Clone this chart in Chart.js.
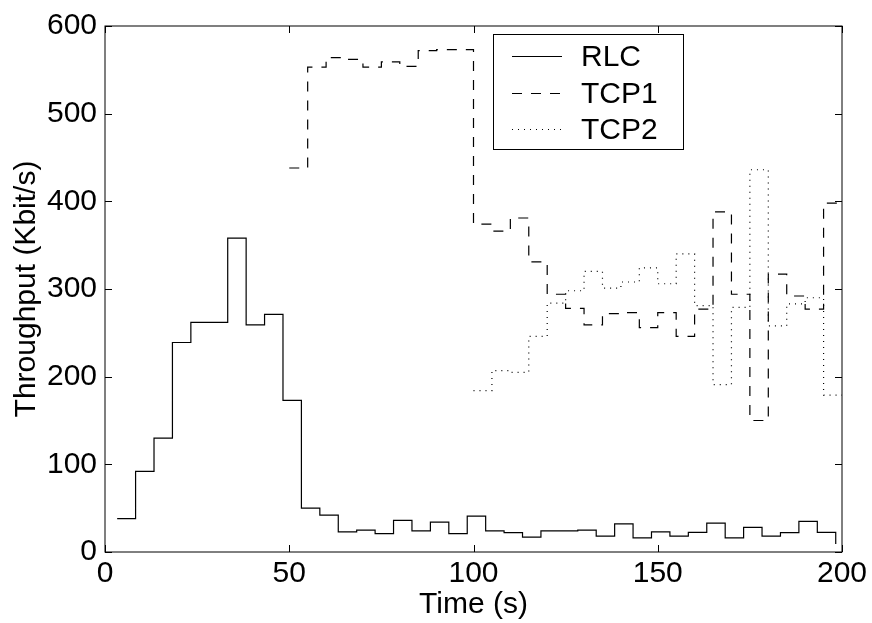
<!DOCTYPE html>
<html>
<head>
<meta charset="utf-8">
<script src="https://cdn.jsdelivr.net/npm/chart.js@4.4.1/dist/chart.umd.min.js"></script>
<style>
  body { margin: 0; background: #fff; }
  canvas { display: block; }
</style>
</head>
<body>
<canvas id="throughputChart" width="872" height="623"></canvas>
<script>
// bin start times (s) and throughput (Kbit/s)
const rlcTime = [3.3, 8.3, 13.3, 18.3, 23.3, 28.3, 33.3, 38.3, 43.3, 48.3,
  53.3, 58.3, 63.3, 68.3, 73.3, 78.3, 83.3, 88.3, 93.3, 98.3,
  103.3, 108.3, 113.3, 118.3, 123.3, 128.3, 133.3, 138.3, 143.3, 148.3,
  153.3, 158.3, 163.3, 168.3, 173.3, 178.3, 183.3, 188.3, 193.3, 198.3];
const rlcRate = [38, 92, 130, 239, 262, 262, 358, 259, 271, 173,
  50, 42, 23, 25, 21, 36, 24, 34, 21, 41,
  24, 22, 17, 24, 24, 25, 18, 32, 16, 23,
  18, 22.5, 33, 16, 28, 18, 22, 35, 22.5, 9];

const tcp1Time = [50, 55, 60, 65, 70, 75, 80, 85, 90, 95,
  100, 105, 110, 115, 120, 125, 130, 135, 140, 145,
  150, 155, 160, 165, 170, 175, 180, 185, 190, 195, 200];
const tcp1Rate = [438, 553, 564, 562, 553, 559, 554, 572, 573, 573,
  374, 366, 381, 331, 294, 278, 259, 272, 273, 256,
  273, 246, 277, 388, 294, 150, 317, 292, 277, 398, 398];

const tcp2Time = [100, 105, 110, 115, 120, 125, 130, 135, 140, 145,
  150, 155, 160, 165, 170, 175, 180, 185, 190, 195, 200];
const tcp2Rate = [184, 207, 205, 246, 284, 298, 320, 301, 308, 324,
  306, 340, 281, 191, 279, 436, 258, 283, 290, 179, 179];

const xTicks = [0, 50, 100, 150, 200];
const yTicks = [0, 100, 200, 300, 400, 500, 600];

const toPoints = (t, v) => t.map((x, i) => ({ x: x, y: v[i] }));
const FONT = { family: "'Liberation Sans', Arial, sans-serif", size: 30 };

// frame, inward ticks on all four sides, and boxed legend
const frameAndLegend = {
  id: "frameAndLegend",
  afterDraw(chart) {
    const { ctx, chartArea: a, scales } = chart;
    const tl = 7;
    ctx.save();
    ctx.strokeStyle = "#000";
    ctx.lineWidth = 1;
    ctx.setLineDash([]);
    ctx.strokeRect(a.left, a.top, a.right - a.left, a.bottom - a.top);
    ctx.beginPath();
    xTicks.forEach(v => {
      const px = Math.round(scales.x.getPixelForValue(v)) + 0.5;
      ctx.moveTo(px, a.bottom); ctx.lineTo(px, a.bottom - tl);
      ctx.moveTo(px, a.top); ctx.lineTo(px, a.top + tl);
    });
    yTicks.forEach(v => {
      const py = Math.round(scales.y.getPixelForValue(v)) + 0.5;
      ctx.moveTo(a.left, py); ctx.lineTo(a.left + tl, py);
      ctx.moveTo(a.right, py); ctx.lineTo(a.right - tl, py);
    });
    ctx.stroke();

    // legend box
    const bx = 493.5, by = 34.5, bw = 190, bh = 115;
    ctx.fillStyle = "#fff";
    ctx.fillRect(bx, by, bw, bh);
    ctx.strokeRect(bx, by, bw, bh);
    const rows = [56.5, 93.5, 129.5];
    ctx.font = "30px 'Liberation Sans', Arial, sans-serif";
    ctx.textBaseline = "middle";
    chart.data.datasets.forEach((ds, i) => {
      ctx.strokeStyle = ds.borderColor;
      ctx.lineWidth = ds.borderWidth;
      ctx.setLineDash(ds.borderDash || []);
      ctx.beginPath();
      ctx.moveTo(512, rows[i]);
      ctx.lineTo(562, rows[i]);
      ctx.stroke();
      ctx.fillStyle = "#000";
      ctx.fillText(ds.label, 581, rows[i] + 1);
    });
    ctx.restore();
  }
};

const ctx = document.getElementById("throughputChart");
const chart = new Chart(ctx, {
  type: "line",
  data: {
    datasets: [
      {
        label: "RLC",
        data: toPoints(rlcTime, rlcRate),
        borderColor: "#000",
        borderWidth: 1.2,
        stepped: "before",
        pointRadius: 0,
      },
      {
        label: "TCP1",
        data: toPoints(tcp1Time, tcp1Rate),
        borderColor: "#000",
        borderWidth: 1.2,
        borderDash: [10, 9],
        stepped: "before",
        pointRadius: 0,
      },
      {
        label: "TCP2",
        data: toPoints(tcp2Time, tcp2Rate),
        borderColor: "#000",
        borderWidth: 1.2,
        borderDash: [1, 5],
        stepped: "before",
        pointRadius: 0,
      },
    ],
  },
  options: {
    responsive: false,
    animation: false,
    layout: { padding: { left: 0, right: 30, top: 19, bottom: 0 } },
    plugins: {
      legend: { display: false },
      tooltip: { enabled: false },
    },
    scales: {
      x: {
        type: "linear",
        min: 0,
        max: 200,
        afterBuildTicks: s => { s.ticks = xTicks.map(v => ({ value: v })); },
        afterFit: s => { s.height = 71; },
        grid: { display: false, drawTicks: false },
        border: { display: false },
        ticks: { color: "#000", font: FONT, padding: 4, maxRotation: 0 },
        title: {
          display: true,
          text: "Time (s)",
          color: "#000",
          font: FONT,
          padding: { top: 0, bottom: 0 },
        },
      },
      y: {
        min: 0,
        max: 600,
        afterBuildTicks: s => { s.ticks = yTicks.map(v => ({ value: v })); },
        afterFit: s => { s.width = 105; },
        grid: { display: false, drawTicks: false },
        border: { display: false },
        ticks: { color: "#000", font: FONT, padding: 8 },
        title: {
          display: true,
          text: "Throughput (Kbit/s)",
          color: "#000",
          font: FONT,
          padding: { top: 9, bottom: 0 },
        },
      },
    },
  },
  plugins: [frameAndLegend],
});
</script>
</body>
</html>
